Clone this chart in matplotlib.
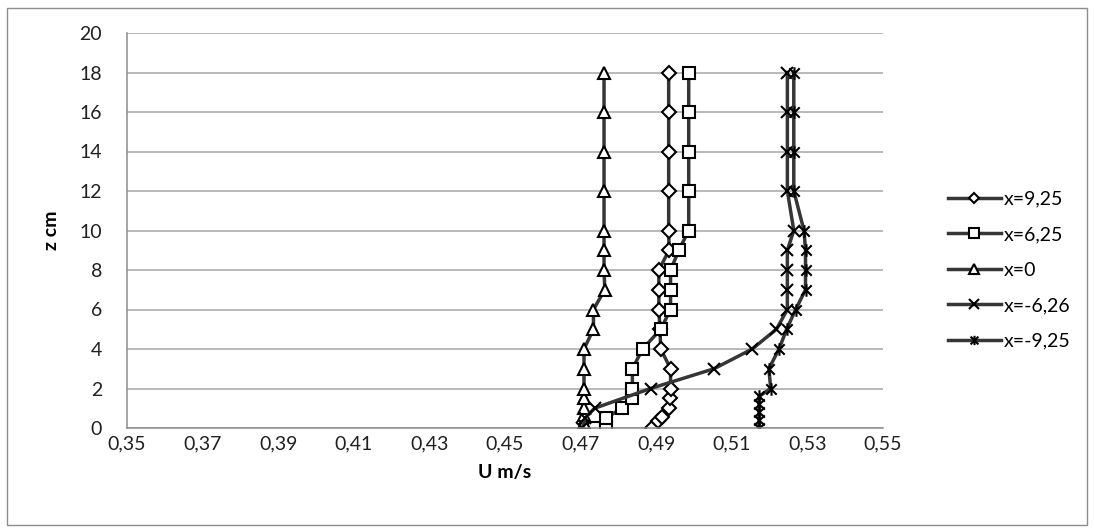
import matplotlib
matplotlib.use("Agg")
import matplotlib.pyplot as plt
from matplotlib.path import Path
from matplotlib.patches import Rectangle
from matplotlib.ticker import FixedLocator, FuncFormatter

plt.rcParams['font.family'] = ['Lato', 'DejaVu Sans']

# ---- data ----
z_925 = [0, 0.33, 0.55, 1, 1.5, 2, 3, 4, 5, 6, 7, 8, 9, 10, 12, 14, 16, 18]
u_925 = [0.4890, 0.4905, 0.4916, 0.4934, 0.4936, 0.4938, 0.4938, 0.4912, 0.4910,
         0.4907, 0.4907, 0.4907, 0.4934, 0.4933, 0.4933, 0.4933, 0.4933, 0.4933]

z_625 = [0, 0.05, 0.5, 1, 1.5, 2, 3, 4, 5, 6, 7, 8, 9, 10, 12, 14, 16, 18]
u_625 = [0.4735, 0.4766, 0.4766, 0.4810, 0.4837, 0.4837, 0.4837, 0.4864, 0.4912,
         0.4938, 0.4938, 0.4938, 0.4960, 0.4986, 0.4986, 0.4986, 0.4986, 0.4986]

z_0 = [0, 0.24, 0.66, 1, 1.5, 2, 3, 4, 5, 6, 7, 8, 9, 10, 12, 14, 16, 18]
u_0 = [0.4709, 0.4709, 0.4709, 0.4709, 0.4709, 0.4709, 0.4709, 0.4709, 0.4734,
       0.4734, 0.4764, 0.4762, 0.4762, 0.4762, 0.4762, 0.4762, 0.4762, 0.4762]

z_m626 = [0, 0.5, 1, 2, 3, 4, 5, 6, 7, 8, 9, 10, 12, 14, 16, 18]
u_m626 = [0.4705, 0.4712, 0.4737, 0.4885, 0.5053, 0.5154, 0.5218, 0.5247, 0.5247,
          0.5247, 0.5247, 0.5264, 0.5247, 0.5247, 0.5247, 0.5247]

z_m925 = [0, 0.4, 0.8, 1.2, 1.6, 2, 3, 4, 5, 6, 7, 8, 9, 10, 12, 14, 16, 18]
u_m925 = [0.5172, 0.5172, 0.5172, 0.5172, 0.5172, 0.5203, 0.5198, 0.5225, 0.5245,
          0.5269, 0.5295, 0.5295, 0.5295, 0.5291, 0.5264, 0.5264, 0.5264, 0.5264]

series_labels = ["x=9,25", "x=6,25", "x=0", "x=-6,26", "x=-9,25"]
x_ticks = [0.35, 0.37, 0.39, 0.41, 0.43, 0.45, 0.47, 0.49, 0.51, 0.53, 0.55]
y_ticks = [0, 2, 4, 6, 8, 10, 12, 14, 16, 18, 20]

# ---- styling ----
W, H = 1094, 532
fig = plt.figure(figsize=(W / 100, H / 100), dpi=100)
fig.patch.set_facecolor('white')
fig.add_artist(Rectangle((7 / W, 1 - 525 / H), (1087 - 7) / W, (525 - 8) / H,
                         transform=fig.transFigure, fill=False,
                         edgecolor='#8c8c8c', linewidth=1.0))

ax = fig.add_axes([127 / W, 1 - 428 / H, (883 - 127) / W, (428 - 33) / H])

asterisk = Path([(-1, -1), (1, 1), (-1, 1), (1, -1), (0, -1.2), (0, 1.2)],
                [Path.MOVETO, Path.LINETO, Path.MOVETO, Path.LINETO,
                 Path.MOVETO, Path.LINETO])

line_col = '#363636'
common = dict(color=line_col, linewidth=2.5, markeredgecolor='black',
              markerfacecolor='white', markeredgewidth=1.5)

ax.plot(u_925, z_925, marker='D', markersize=7, label=series_labels[0], **common)
ax.plot(u_625, z_625, marker='s', markersize=9, label=series_labels[1], **common)
ax.plot(u_0, z_0, marker='^', markersize=9, label=series_labels[2], **common)
ax.plot(u_m626, z_m626, marker='x', markersize=9, label=series_labels[3], **common)
ax.plot(u_m925, z_m925, marker=asterisk, markersize=9, label=series_labels[4], **common)

ax.set_xlim(x_ticks[0], x_ticks[-1])
ax.set_ylim(y_ticks[0], y_ticks[-1])
ax.xaxis.set_major_locator(FixedLocator(x_ticks))
ax.yaxis.set_major_locator(FixedLocator(y_ticks))
ax.xaxis.set_major_formatter(FuncFormatter(lambda v, p: f"{v:.2f}".replace('.', ',')))
ax.yaxis.set_major_formatter(FuncFormatter(lambda v, p: f"{v:.0f}"))
ax.tick_params(axis='both', length=0, labelsize=14, colors='#202020')
ax.tick_params(axis='y', pad=18)
ax.tick_params(axis='x', pad=5)
ax.grid(axis='y', color='#a6a6a6', linewidth=1.1)
ax.set_axisbelow(True)
for s in ['top', 'right']:
    ax.spines[s].set_visible(False)
for s in ['left', 'bottom']:
    ax.spines[s].set_color('#8c8c8c')
    ax.spines[s].set_linewidth(1.1)

ax.set_xlabel("U m/s", fontsize=14, fontweight='bold', labelpad=9)
ax.set_ylabel("z cm", fontsize=14, fontweight='bold', labelpad=14)

leg = fig.legend(loc='center left', bbox_to_anchor=(948 / W, 1 - 270 / H),
                 frameon=False, fontsize=14, handlelength=2.7, handletextpad=0.15,
                 labelspacing=0.95, borderpad=0, borderaxespad=0, markerscale=0.75)

fig.savefig("out.png", dpi=100, facecolor='white')
